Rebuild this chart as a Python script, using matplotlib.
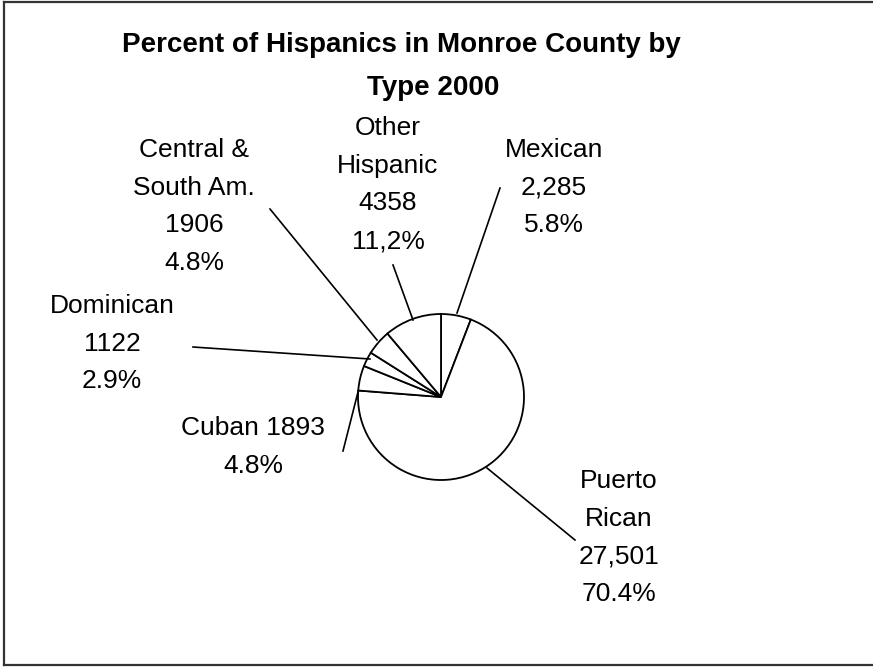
import matplotlib.pyplot as plt
from matplotlib.lines import Line2D

plt.rcParams['font.family'] = ['Liberation Sans', 'DejaVu Sans']

# Hispanic population of Monroe County by type, 2000
types = ['Mexican', 'Puerto Rican', 'Cuban', 'Dominican',
         'Central & South Am.', 'Other Hispanic']
counts = [2285, 27501, 1893, 1122, 1906, 4358]
label_lines = [
    ['Mexican', '2,285', '5.8%'],
    ['Puerto', 'Rican', '27,501', '70.4%'],
    ['Cuban 1893', '4.8%'],
    ['Dominican', '1122', '2.9%'],
    ['Central &', 'South Am.', '1906', '4.8%'],
    ['Other', 'Hispanic', '4358', '11,2%'],
]
title_lines = ['Percent of Hispanics in Monroe County by', 'Type 2000']

# canvas in pixels, positions measured from the top edge
W, H = 873, 667
pie_center = (441, 397)
pie_radius = 83
label_pos = [(554, 157), (619, 488), (253, 435), (112, 313), (194, 157), (388, 135)]
leaders = [((500, 188), (457, 313)), ((487, 468), (575, 540)),
           ((343, 451), (358, 392)), ((193, 347), (370, 359)),
           ((270, 209), (377, 340)), ((393, 265), (413, 320))]
line_step = 37.7


def flip(p):
    return p[0], H - p[1]


fig = plt.figure(figsize=(W / 100, H / 100), dpi=100)
ax = fig.add_axes([0, 0, 1, 1])

ax.pie(counts, startangle=90, counterclock=False,
       center=flip(pie_center), radius=pie_radius,
       colors=['white'] * len(counts),
       wedgeprops=dict(edgecolor='black', linewidth=1.3))

ax.set_xlim(0, W)
ax.set_ylim(0, H)
ax.set_aspect('equal')
ax.axis('off')

# leader lines from the labels to the slices
for start, end in leaders:
    (x0, y0), (x1, y1) = flip(start), flip(end)
    ax.plot([x0, x1], [y0, y1], color='black', lw=1.2, zorder=3)

# slice labels, one text per line
for lines, (cx, top) in zip(label_lines, label_pos):
    for i, s in enumerate(lines):
        ax.text(cx, H - (top + i * line_step), s, ha='center', va='baseline',
                fontsize=19, color='black')

ax.text(401, H - 52, title_lines[0], ha='center', va='baseline',
        fontsize=20, fontweight='bold')
ax.text(433, H - 95, title_lines[1], ha='center', va='baseline',
        fontsize=20, fontweight='bold')

# frame on the left, top and bottom
for xs, ys in [([4, 4], [2, 665]), ([4, W], [2, 2]), ([4, W], [665, 665])]:
    fig.add_artist(Line2D([x / W for x in xs], [1 - y / H for y in ys],
                          color='#333333', lw=1.6))

fig.savefig('out.png', dpi=100)
